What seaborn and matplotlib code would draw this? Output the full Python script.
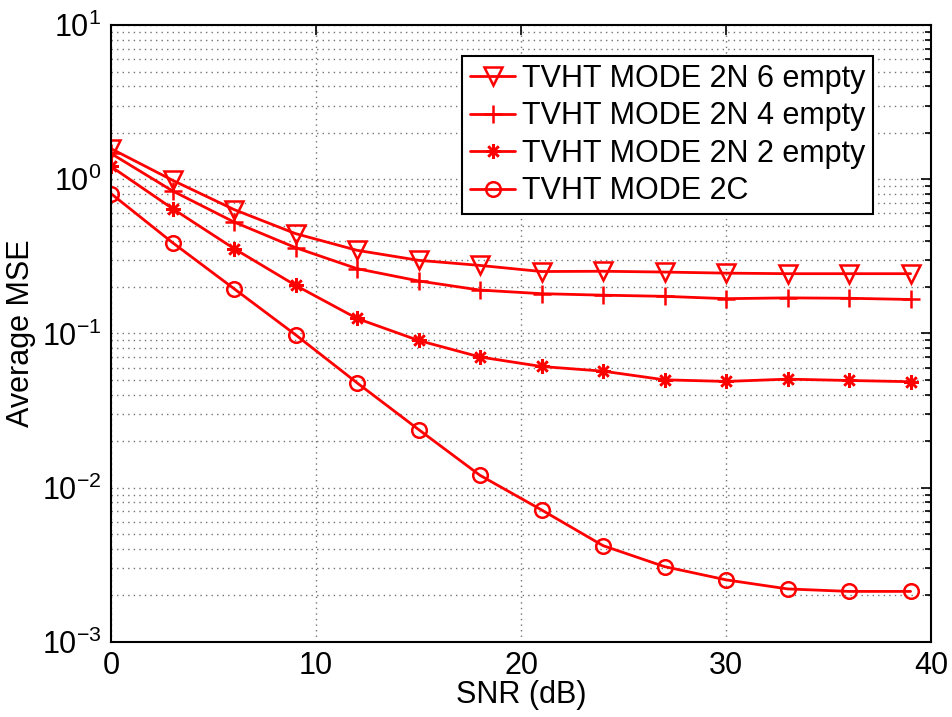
# MSE vs SNR for the TVHT modes, log-scale y axis in a MATLAB-like look.

import numpy as np
import pandas as pd
import seaborn as sns
import matplotlib.pyplot as plt
from matplotlib.ticker import LogLocator, NullFormatter

snr_db = [0, 3, 6, 9, 12, 15, 18, 21, 24, 27, 30, 33, 36, 39]

mse_2n_6empty = [1.58, 0.985, 0.636, 0.444, 0.346, 0.298, 0.276, 0.252, 0.253,
                 0.250, 0.246, 0.244, 0.244, 0.244]
mse_2n_4empty = [1.47, 0.84, 0.528, 0.36, 0.263, 0.219, 0.191, 0.181, 0.177,
                 0.174, 0.168, 0.170, 0.169, 0.166]
mse_2n_2empty = [1.21, 0.645, 0.355, 0.205, 0.125, 0.090, 0.0703, 0.061, 0.0569,
                 0.050, 0.0488, 0.0505, 0.0495, 0.0486]
mse_2c = [0.807, 0.388, 0.195, 0.098, 0.0478, 0.0238, 0.0120, 0.00716, 0.0042,
          0.00307, 0.00252, 0.0022, 0.00212, 0.00212]

series_labels = ["TVHT MODE 2N 6 empty", "TVHT MODE 2N 4 empty",
                 "TVHT MODE 2N 2 empty", "TVHT MODE 2C"]
series_values = [mse_2n_6empty, mse_2n_4empty, mse_2n_2empty, mse_2c]
series_markers = ["v", "+", (8, 2, 0), "o"]
marker_sizes = [12.5, 12.5, 10.5, 10.5]

sns.set_style("white")
plt.rcParams["font.family"] = ["Liberation Sans", "DejaVu Sans"]
plt.rcParams["mathtext.fontset"] = "custom"
plt.rcParams["mathtext.rm"] = "Liberation Sans"
plt.rcParams["mathtext.it"] = "Liberation Sans"
plt.rcParams["mathtext.default"] = "regular"
for key in ["text.color", "axes.labelcolor", "xtick.color", "ytick.color"]:
    plt.rcParams[key] = "black"

fig = plt.figure(figsize=(9.53, 7.17), dpi=100)
ax = fig.add_axes([0.1165, 0.105, 0.8605, 0.860])

for label, values, marker, ms in zip(series_labels, series_values, series_markers, marker_sizes):
    df = pd.DataFrame({"snr": snr_db, "mse": values})
    sns.lineplot(data=df, x="snr", y="mse", ax=ax, color="red", linewidth=2,
                 marker=marker, markersize=ms, markerfacecolor="none",
                 markeredgecolor="red", markeredgewidth=1.8, label=label)

ax.set_yscale("log")
ax.set_xlim(0, 40)
ax.set_ylim(1e-3, 10)
ax.set_xticks([0, 10, 20, 30, 40])
ax.yaxis.set_major_locator(LogLocator(base=10, numticks=10))
ax.yaxis.set_minor_locator(LogLocator(base=10, subs=np.arange(2, 10), numticks=20))
ax.yaxis.set_minor_formatter(NullFormatter())

# sparse dotted grid like MATLAB's
ax.grid(True, which="major", axis="both", color="0.45", linestyle=(0, (1, 3)), linewidth=1)
ax.grid(True, which="minor", axis="y", color="0.45", linestyle=(0, (1, 3)), linewidth=1)

ax.tick_params(axis="both", which="both", direction="in", top=True, right=True,
               labelsize=22, width=1.2, color="black", labelcolor="black")
ax.tick_params(axis="both", which="major", length=7, pad=7)
ax.tick_params(axis="y", which="minor", length=4)
for spine in ax.spines.values():
    spine.set_color("black")
    spine.set_linewidth(1.5)

ax.set_xlabel("SNR (dB)", fontsize=22, labelpad=-1, color="black")
ax.set_ylabel("Average MSE", fontsize=22, labelpad=4, color="black")

leg = ax.legend(loc="upper left", bbox_to_anchor=(0.428, 0.950), borderaxespad=0,
                fontsize=22, frameon=True, fancybox=False, shadow=False,
                framealpha=1, edgecolor="black", handlelength=1.5,
                handletextpad=0.2, labelspacing=0.25, borderpad=0.25)
leg.get_frame().set_linewidth(1.5)
for text in leg.get_texts():
    text.set_color("black")

fig.savefig("out.png", dpi=100)
